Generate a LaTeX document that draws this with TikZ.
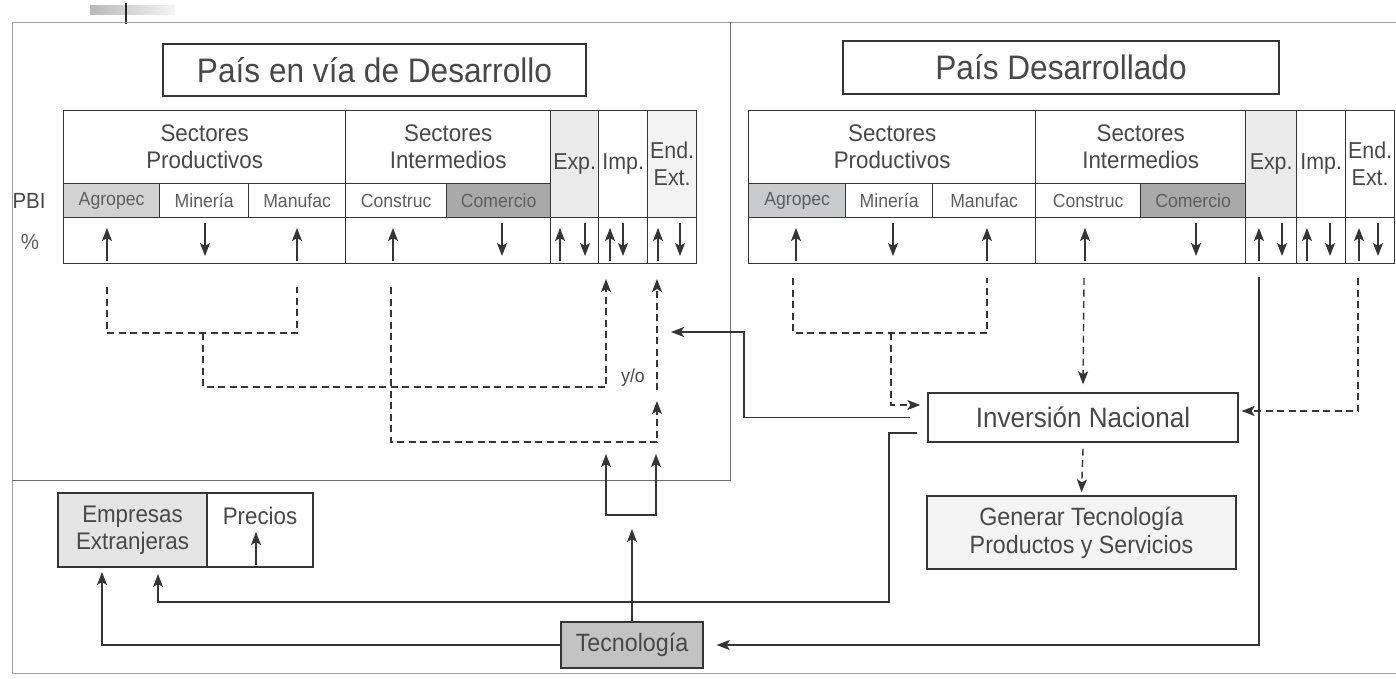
\documentclass[tikz,border=0pt]{standalone}
\usepackage{fontspec}
\setmainfont{Liberation Sans}[FakeStretch=0.93]
\usetikzlibrary{arrows.meta}
\definecolor{linec}{HTML}{353535}
\definecolor{txtc}{HTML}{484848}
\definecolor{subc}{HTML}{5E5E5E}
\definecolor{framec}{HTML}{A0A0A0}
\definecolor{agro}{HTML}{D2D2D2}
\definecolor{agroR}{HTML}{C9CBCE}
\definecolor{come}{HTML}{A9A9A9}
\definecolor{expc}{HTML}{EBEBEB}
\definecolor{endc}{HTML}{F3F3F3}
\definecolor{empc}{HTML}{E4E4E4}
\definecolor{tecc}{HTML}{C3C3C3}
\definecolor{genc}{HTML}{F4F4F4}
\begin{document}
\begin{tikzpicture}[x=1pt,y=-1pt,
 cell/.style={draw=linec, line width=1.3pt, inner sep=0pt, anchor=north west, text=txtc, align=center},
 box/.style={draw=linec, line width=1.3pt, inner sep=0pt, text=txtc, align=center},
 ttl/.style={font=\fontsize{34}{36}\selectfont},
 hdr/.style={font=\fontsize{24}{27}\selectfont},
 sub/.style={font=\fontsize{19}{22}\selectfont, text=subc},
 col/.style={font=\fontsize{23}{27}\selectfont},
 lbl/.style={font=\fontsize{22}{26}\selectfont, text=txtc, inner sep=0pt},
 conn/.style={draw=linec, line width=1.4pt},
 dconn/.style={conn, dash pattern=on 7pt off 4.5pt},
 tip/.style={-{Stealth[length=13pt,width=10pt,inset=3pt]}},
 sym/.style={draw=linec, line width=1.4pt, -{Stealth[length=13pt,width=10pt,inset=3pt]}},
]
\useasboundingbox (0,0) rectangle (1396,678);
\fill[white] (0,0) rectangle (1396,678);

% scan mark
\shade[left color=gray!55, right color=gray!8] (90,5) rectangle (175,14);
\draw[gray!30!black, line width=2pt] (126,3) -- (126,24);

% frames
\draw[framec, line width=0.9pt] (12,673) -- (12,22) -- (1396,22);
\draw[framec, line width=0.9pt] (12,673) -- (1396,673);
\draw[framec!70!black, line width=1pt] (12,480) -- (730,480) -- (730,22);

% ===== left panel =====
\node[box, ttl, minimum width=423pt, minimum height=52pt] (LT) at (374.5,70) {País en vía de Desarrollo};

\node[cell,hdr,minimum width=282pt,minimum height=73pt] (LSP) at (63,110) {Sectores\\Productivos};
\node[cell,hdr,minimum width=205pt,minimum height=73pt] (LSI) at (345,110) {Sectores\\Intermedios};
\node[cell,sub,fill=agro,minimum width=96pt,minimum height=34pt] (LAg) at (63,183) {Agropec};
\node[cell,sub,minimum width=89pt,minimum height=34pt] (LMi) at (159,183) {Minería};
\node[cell,sub,minimum width=97pt,minimum height=34pt] (LMa) at (248,183) {Manufac};
\node[cell,sub,minimum width=101pt,minimum height=34pt] (LCo) at (345,183) {Construc};
\node[cell,sub,fill=come,minimum width=104pt,minimum height=34pt] (LCm) at (446,183) {Comercio};
\node[cell,col,fill=expc,minimum width=48pt,minimum height=107pt] (LEx) at (550,110) {Exp.};
\node[cell,col,minimum width=49pt,minimum height=107pt] (LIm) at (598,110) {Imp.};
\node[cell,col,fill=endc,minimum width=49pt,minimum height=107pt] (LEn) at (647,110) {End.\\Ext.};
\node[cell,minimum width=282pt,minimum height=46pt] (LPr) at (63,217) {};
\node[cell,minimum width=205pt,minimum height=46pt] (LIr) at (345,217) {};
\node[cell,minimum width=48pt,minimum height=46pt] (LExr) at (550,217) {};
\node[cell,minimum width=49pt,minimum height=46pt] (LImr) at (598,217) {};
\node[cell,minimum width=49pt,minimum height=46pt] (LEnr) at (647,217) {};
\node[lbl] (PBI) at (29,201) {PBI};
\node[lbl, text=subc] (PCT) at (30,242) {\%};

% % row arrows (left)
\foreach \x in {107,297,393,560,610,658} \draw[sym] (\x,261) -- (\x,228);
\foreach \x in {205,502,585,623,680} \draw[sym] (\x,223) -- (\x,256);

% dashed connectors (left)
\coordinate (la) at (107,287);
\coordinate (lm) at (297,287);
\coordinate (lc) at (391,287);
\coordinate (lImp) at (606,279);
\coordinate (lEnd) at (657,279);
\coordinate (lyo) at (657,390);
\coordinate (ljn) at (657,401);
\draw[dconn] (la) -- (107,333) -- (297,333) -- (lm);
\draw[dconn, tip] (203,333) -- (203,387) -- (606,387) -- (lImp);
\draw[dconn, tip] (lyo) -- (lEnd);
\draw[dconn, tip] (lc) -- (391,442) -- (657,442) -- (ljn);
\node[font=\fontsize{19}{20}\selectfont, text=txtc, inner sep=0pt] (yo) at (633,378) {y/o};

% solid bracket
\coordinate (b1) at (606,454);
\coordinate (b2) at (656,454);
\draw[conn, {Stealth[length=13pt,width=10pt,inset=3pt]}-{Stealth[length=13pt,width=10pt,inset=3pt]}] (b1) -- (606,515) -- (656,515) -- (b2);

% ===== right panel =====
\node[box, ttl, minimum width=436pt, minimum height=53pt] (RT) at (1061,67.5) {País Desarrollado};

\node[cell,hdr,minimum width=287pt,minimum height=73pt] (RSP) at (748,110) {Sectores\\Productivos};
\node[cell,hdr,minimum width=210pt,minimum height=73pt] (RSI) at (1035,110) {Sectores\\Intermedios};
\node[cell,sub,fill=agroR,minimum width=97pt,minimum height=34pt] (RAg) at (748,183) {Agropec};
\node[cell,sub,minimum width=87pt,minimum height=34pt] (RMi) at (845,183) {Minería};
\node[cell,sub,minimum width=103pt,minimum height=34pt] (RMa) at (932,183) {Manufac};
\node[cell,sub,minimum width=105pt,minimum height=34pt] (RCo) at (1035,183) {Construc};
\node[cell,sub,fill=come,minimum width=105pt,minimum height=34pt] (RCm) at (1140,183) {Comercio};
\node[cell,col,fill=expc,minimum width=51pt,minimum height=107pt] (REx) at (1245,110) {Exp.};
\node[cell,col,minimum width=49pt,minimum height=107pt] (RIm) at (1296,110) {Imp.};
\node[cell,col,minimum width=49pt,minimum height=107pt] (REn) at (1345,110) {End.\\Ext.};
\node[cell,minimum width=287pt,minimum height=46pt] (RPr) at (748,217) {};
\node[cell,minimum width=210pt,minimum height=46pt] (RIr) at (1035,217) {};
\node[cell,minimum width=51pt,minimum height=46pt] (RExr) at (1245,217) {};
\node[cell,minimum width=49pt,minimum height=46pt] (RImr) at (1296,217) {};
\node[cell,minimum width=49pt,minimum height=46pt] (REnr) at (1345,217) {};

\foreach \x in {796,987,1085,1259,1307,1359} \draw[sym] (\x,261) -- (\x,228);
\foreach \x in {893,1196,1282,1330,1378} \draw[sym] (\x,223) -- (\x,256);

% lower right boxes
\node[box, font=\fontsize{28}{32}\selectfont, minimum width=310pt, minimum height=49pt] (Inv) at (1083,417.5) {Inversión Nacional};
\node[box, fill=genc, font=\fontsize{25}{28}\selectfont, minimum width=309pt, minimum height=73pt] (Gen) at (1081.5,532.5) {Generar Tecnología\\Productos y Servicios};

% dashed connectors (right)
\coordinate (ra) at (793,278);
\coordinate (rm) at (987,278);
\coordinate (rc) at (1084,278);
\coordinate (re) at (1358,278);
\draw[dconn] (ra) -- (793,333) -- (987,333) -- (rm);
\draw[dconn, tip] (891,333) -- (891,405) -- ([xshift=-7pt,yshift=12.5pt]Inv.west);
\draw[dconn, tip] (rc) -- ([yshift=8pt]Inv.north);
\draw[dconn, tip] (re) -- (1358,411) -- ([xshift=3pt,yshift=6.5pt]Inv.east);
\draw[dconn, tip] ([yshift=-6pt]Inv.south) -- ([yshift=3pt]Gen.north);

% ===== bottom =====
\node[box, fill=empc, font=\fontsize{24}{27}\selectfont, minimum width=149pt, minimum height=74pt] (Emp) at (132.5,530) {Empresas\\Extranjeras};
\node[box, minimum width=106pt, minimum height=74pt] (Pre) at (260,530) {};
\node[font=\fontsize{24}{27}\selectfont, text=txtc, inner sep=0pt] (PreT) at (260,516) {Precios};
\draw[sym] (256,565) -- (256,532);
\node[box, fill=tecc, font=\fontsize{25}{28}\selectfont, minimum width=142pt, minimum height=46pt] (Tec) at (632,645) {Tecnología};

\coordinate (e1) at (102,572);
\coordinate (e2) at (158,574);
\coordinate (tk) at (632,529);
\coordinate (lInv) at (671,332);
\draw[conn, tip] (Tec.north) -- (tk);
\draw[conn, tip] (Tec.west) -| (e1);
\draw[conn, tip] ([xshift=-10pt,yshift=-15.5pt]Inv.west) -- (889,433) -- (889,602) -| (e2);
\draw[conn, tip] ([xshift=-17pt]Inv.west) -- (744,417.5) -- (744,332) -- (lInv);
\draw[conn, tip] (1259,277) -- (1259,645) -- ([xshift=13pt]Tec.east);
\end{tikzpicture}
\end{document}
